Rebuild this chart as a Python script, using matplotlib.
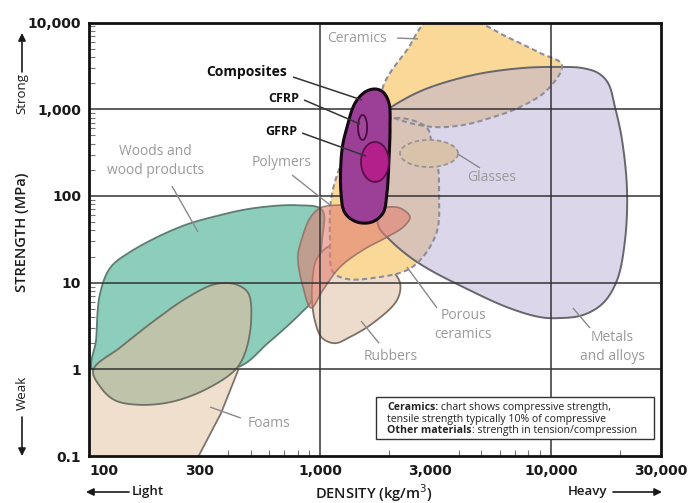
import numpy as np
import matplotlib
matplotlib.use("Agg")
import matplotlib.pyplot as plt
from matplotlib.patches import Polygon, Rectangle, FancyArrowPatch
from matplotlib.ticker import FixedLocator, NullFormatter, LogLocator

plt.rcParams['font.family'] = ['Open Sans', 'DejaVu Sans']

# ---------------- material envelopes (density kg/m3, strength MPa) ----------------
woods_density = [104, 107, 111, 123, 150, 247, 369, 513, 795, 1020, 1020, 923, 819, 594, 442, 224]
woods_strength = [0.96, 2.2, 7.2, 14.7, 22.5, 43.8, 60, 72, 78, 69, 31, 6.3, 4.35, 2.0, 1.06, 0.93]

foam_cell_density = [104, 137, 193, 268, 351, 428, 488, 503, 473, 428, 317, 226, 163, 129, 112]
foam_cell_strength = [0.98, 1.81, 3.7, 6.8, 9.6, 9.6, 7.6, 3.7, 1.54, 0.98, 0.58, 0.42, 0.39, 0.44, 0.62]

foam_base_density = [90, 450, 442, 372, 296, 274, 90]
foam_base_strength = [0.9, 1.9, 0.98, 0.31, 0.097, 0.053, 0.053]

rubber_density = [925, 962, 1082, 1310, 1647, 2011, 2222, 2158, 1698, 1349, 1161, 1021, 953, 923]
rubber_strength = [9.4, 18.2, 25.8, 29.4, 22.5, 14.7, 9.9, 6.3, 3.42, 2.36, 2.0, 2.3, 3.52, 6.3]

polymer_density = [1000, 1221, 1820, 2222, 2455, 2296, 1955, 1538, 1221, 1030, 914, 844, 802, 844, 905]
polymer_strength = [72.4, 78.5, 74.5, 72.4, 57.1, 43.8, 33.6, 23.8, 15.1, 8.2, 5.1, 8.9, 19.7, 35.4, 55.6]

ceramic_density = [2938, 4602, 6470, 8990, 11190, 9640, 7360, 5460, 4170, 3090, 2222, 1820, 1875, 2011, 2382]
ceramic_strength = [10400, 10400, 6810, 4450, 3236, 1663, 1059, 791, 657, 624, 750, 979, 1803, 2617, 4818]

porous_density = [2912, 3056, 3245, 3279, 3245, 2997, 2636, 2338, 1820, 1310, 1138, 1105, 1116, 1186, 1349, 1647, 2222]
porous_strength = [607, 386, 215, 102, 43.8, 25.8, 16.8, 13.6, 11.6, 11.0, 13.3, 31, 89.7, 174, 386, 657, 791]

metal_density = [1915, 2071, 2797, 4602, 7580, 10970, 13660, 16030, 17720, 18990, 20370, 21410,
                 20990, 19390, 16860, 13810, 10970, 8990, 6470, 4170, 2997, 2455, 2011, 1786, 1875]
metal_strength = [929, 1089, 1663, 2477, 2987, 3070, 2987, 2617, 2004, 1059, 442, 117,
                  31, 10.7, 5.8, 4.23, 3.9, 4.0, 5.2, 8.9, 14, 19.7, 31, 46.1, 199]

composite_density = [1731, 1875, 1990, 2011, 1990, 1950, 1875, 1679, 1446, 1283, 1233, 1245, 1310, 1419, 1567]
composite_strength = [1710, 1578, 1178, 624, 259, 108, 63.5, 50, 50, 63.5, 108, 338, 624, 1178, 1578]

glass_density = (2222, 3963)
glass_strength = (215, 442)
cfrp_density = (1462, 1600)
cfrp_strength = (442, 857)
gfrp_density = (1506, 1990)
gfrp_strength = (145, 419)

x_ticks = [100, 300, 1000, 3000, 10000, 30000]
x_tick_labels = ['100', '300', '1,000', '3,000', '10,000', '30,000']
y_ticks = [0.1, 1, 10, 100, 1000, 10000]
y_tick_labels = ['0.1', '1', '10', '100', '1,000', '10,000']

# ---------------- figure ----------------
W, H = 689, 503
fig = plt.figure(figsize=(W / 100, H / 100), dpi=100)
ax = fig.add_axes([89.3 / W, (H - 456) / H, (660.8 - 89.3) / W, (456 - 22.5) / H])
ax.set_xscale('log')
ax.set_yscale('log')
ax.set_xlim(100, 30000)
ax.set_ylim(0.1, 10000)


def closed_curve(dens, stren, n=24):
    """Centripetal Catmull-Rom loop through the envelope points (in screen space)."""
    P = ax.transData.transform(np.column_stack([dens, stren]))
    N = len(P)
    out = []
    for i in range(N):
        p0, p1, p2, p3 = P[i - 1], P[i], P[(i + 1) % N], P[(i + 2) % N]
        t0 = 0.0
        t1 = t0 + max(np.linalg.norm(p1 - p0), 1e-6) ** 0.5
        t2 = t1 + max(np.linalg.norm(p2 - p1), 1e-6) ** 0.5
        t3 = t2 + max(np.linalg.norm(p3 - p2), 1e-6) ** 0.5
        for t in np.linspace(t1, t2, n, endpoint=False):
            A1 = (t1 - t) / (t1 - t0) * p0 + (t - t0) / (t1 - t0) * p1
            A2 = (t2 - t) / (t2 - t1) * p1 + (t - t1) / (t2 - t1) * p2
            A3 = (t3 - t) / (t3 - t2) * p2 + (t - t2) / (t3 - t2) * p3
            B1 = (t2 - t) / (t2 - t0) * A1 + (t - t0) / (t2 - t0) * A2
            B2 = (t3 - t) / (t3 - t1) * A2 + (t - t1) / (t3 - t1) * A3
            out.append((t2 - t) / (t2 - t1) * B1 + (t - t1) / (t2 - t1) * B2)
    return ax.transData.inverted().transform(np.array(out))


def ellipse(drange, srange, n=120):
    (x0, y0), (x1, y1) = ax.transData.transform([[drange[0], srange[0]], [drange[1], srange[1]]])
    cx, cy, rx, ry = (x0 + x1) / 2, (y0 + y1) / 2, abs(x1 - x0) / 2, abs(y1 - y0) / 2
    t = np.linspace(0, 2 * np.pi, n)
    pts = np.column_stack([cx + rx * np.cos(t), cy + ry * np.sin(t)])
    return ax.transData.inverted().transform(pts)


def add(pts, z, **kw):
    ax.add_patch(Polygon(pts, closed=True, zorder=z, **kw))


# woods
add(closed_curve(woods_density, woods_strength), 2.0, facecolor='#8dcdbc', edgecolor='#5d7d74', lw=1.3)
# foams
add(np.column_stack([foam_base_density, foam_base_strength]), 2.1, facecolor='#f0dfcd', edgecolor='none')
ax.plot(foam_base_density[2:6], foam_base_strength[2:6], color='#7c746c', lw=1.3, zorder=2.11)
add(closed_curve(foam_cell_density, foam_cell_strength), 2.2, facecolor='#bec3aa', edgecolor='#6e7366', lw=1.3)
# rubbers
add(closed_curve(rubber_density, rubber_strength), 2.3, facecolor='#eddccb', edgecolor='#7d7068', lw=1.3)
# ceramics (fills)
cer = closed_curve(ceramic_density, ceramic_strength)
por = closed_curve(porous_density, porous_strength)
add(cer, 2.4, facecolor='#fad898', edgecolor='none')
add(por, 2.4, facecolor='#fad898', edgecolor='none')
# metals
add(closed_curve(metal_density, metal_strength), 2.5, facecolor='#b9afd7', alpha=0.5, edgecolor='none')
add(closed_curve(metal_density, metal_strength), 2.6, fill=False, edgecolor='#66666c', lw=1.4)
# ceramics (dashed outlines)
add(cer, 2.7, fill=False, edgecolor='#8e8e9a', lw=1.5, linestyle=(0, (2.5, 1.6)))
add(por, 2.7, fill=False, edgecolor='#8e8e9a', lw=1.5, linestyle=(0, (2.5, 1.6)))
# glasses
add(ellipse(glass_density, glass_strength), 2.8, facecolor='#d9c2aa', edgecolor='#9a9496',
    lw=1.3, linestyle=(0, (2.5, 1.6)))
# polymers
add(closed_curve(polymer_density, polymer_strength), 2.9, facecolor='#e17f71', alpha=0.6, edgecolor='none')
add(closed_curve(polymer_density, polymer_strength), 2.91, fill=False, edgecolor='#8d6a62', lw=1.2, alpha=0.8)

# grid
for xv in (1000, 10000):
    ax.axvline(xv, color='#333333', lw=1.1, zorder=2.95)
for yv in (1, 10, 100, 1000):
    ax.axhline(yv, color='#333333', lw=1.1, zorder=2.95)

# composites
add(closed_curve(composite_density, composite_strength), 3.0, facecolor='#9c3f97', edgecolor='#150712', lw=2.2)
add(ellipse(gfrp_density, gfrp_strength), 3.1, facecolor='#b3208c', edgecolor='#5a0f4a', lw=1.3)
add(ellipse(cfrp_density, cfrp_strength), 3.1, facecolor='#a1479b', edgecolor='#4a0a40', lw=1.3)

# ---------------- axes styling ----------------
for s in ax.spines.values():
    s.set_linewidth(2.0)
    s.set_color('#111111')
    s.set_zorder(5)
ax.xaxis.set_major_locator(FixedLocator(x_ticks))
ax.set_xticklabels(x_tick_labels)
ax.yaxis.set_major_locator(FixedLocator(y_ticks))
ax.set_yticklabels(y_tick_labels)
ax.xaxis.set_minor_locator(LogLocator(base=10, subs=np.arange(2, 10)))
ax.yaxis.set_minor_locator(LogLocator(base=10, subs=np.arange(2, 10)))
ax.xaxis.set_minor_formatter(NullFormatter())
ax.yaxis.set_minor_formatter(NullFormatter())
ax.tick_params(which='major', length=0, pad=6, labelsize=10, labelcolor='#1a1a1a')
ax.tick_params(which='minor', direction='in', length=4, width=0.8, color='#777777')
for lab in ax.get_xticklabels() + ax.get_yticklabels():
    lab.set_fontfamily('DejaVu Sans')
    lab.set_fontweight('bold')
ax.get_xticklabels()[0].set_horizontalalignment('left')

# ---------------- region labels ----------------
gray = '#9a9a9a'
lead = '#8a8a8a'
lab_kw = dict(color=gray, fontsize=10, ha='center', va='center', zorder=6, linespacing=1.35)


def leader(d0, s0, d1, s1, c=lead, lw=1.0):
    ax.plot([d0, d1], [s0, s1], color=c, lw=lw, zorder=6, solid_capstyle='butt')


ax.text(1446, 6620, 'Ceramics', **lab_kw)
leader(2158, 6620, 2661, 6460)
ax.text(193, 250, 'Woods and\nwood products', **lab_kw)
leader(228, 130, 296, 38.4)
ax.text(684, 240, 'Polymers', **lab_kw)
leader(757, 174, 1105, 78.5)
ax.text(5570, 165, 'Glasses', **lab_kw)
leader(3963, 304, 4936, 210)
ax.text(4170, 3.24, 'Porous\nceramics', **lab_kw)
leader(2382, 15.1, 3214, 5.1)
ax.text(2032, 1.42, 'Rubbers', **lab_kw)
leader(1506, 3.6, 1803, 2.0)
ax.text(18460, 1.81, 'Metals\nand alloys', **lab_kw)
leader(12480, 5.1, 14800, 2.99)
ax.text(601, 0.234, 'Foams', **lab_kw)
leader(334, 0.367, 454, 0.274)

bold_kw = dict(color='#111111', fontsize=10, fontweight='bold', ha='center', va='center', zorder=6)
ax.text(483, 2685, 'Composites', **bold_kw)
leader(764, 2351, 1520, 1277, c='#333333', lw=1.1)
ax.text(698, 1345, 'CFRP', **{**bold_kw, 'fontsize': 9})
leader(853, 1277, 1490, 675, c='#333333', lw=1.1)
ax.text(678, 546, 'GFRP', **{**bold_kw, 'fontsize': 9})
leader(836, 531, 1582, 288, c='#333333', lw=1.1)

# ---------------- note box ----------------
ax.add_patch(Rectangle((0.502, 0.039), 0.486, 0.097, transform=ax.transAxes, facecolor='white',
                       edgecolor='#333333', lw=1.0, zorder=7))
nfs = 7.6
nkw = dict(fontsize=nfs, color='#222222', zorder=8, transform=ax.transAxes, va='baseline')
t1 = ax.text(0.521, 0.106, 'Ceramics:', fontweight='bold', **nkw)
ax.annotate(' chart shows compressive strength,', xy=(1, 0), xycoords=t1, va='bottom',
            fontsize=nfs, color='#222222', zorder=8)
ax.text(0.521, 0.079, 'tensile strength typically 10% of compressive', **nkw)
t3 = ax.text(0.521, 0.052, 'Other materials', fontweight='bold', **nkw)
ax.annotate(': strength in tension/compression', xy=(1, 0), xycoords=t3, va='bottom',
            fontsize=nfs, color='#222222', zorder=8)

# ---------------- axis titles with direction arrows ----------------
def fx(x):
    return x / W


def fy(y):
    return 1 - y / H


ax_kw = dict(color='#1a1a1a', fontsize=10.5, fontweight='semibold')
fig.text(fx(22), fy(232), 'STRENGTH (MPa)', rotation=90, ha='center', va='center', **ax_kw)
fig.text(fx(22), fy(93), 'Strong', rotation=90, ha='center', va='center', color='#1a1a1a', fontsize=9.5)
fig.text(fx(22), fy(393), 'Weak', rotation=90, ha='center', va='center', color='#1a1a1a', fontsize=9.5)
fig.text(fx(374), fy(493), 'DENSITY (kg/m$^3$)', ha='center', va='center', **ax_kw)
fig.text(fx(132), fy(492), 'Light', ha='left', va='center', color='#1a1a1a', fontsize=9.5, fontweight='semibold')
fig.text(fx(607), fy(492), 'Heavy', ha='right', va='center', color='#1a1a1a', fontsize=9.5, fontweight='semibold')

arrow = dict(arrowstyle='-|>', color='#1a1a1a', lw=1.2, mutation_scale=11, shrinkA=0, shrinkB=0)
for tail, tip in [((22, 72), (22, 33)), ((22, 417), (22, 456)), ((129, 492), (86, 492)), ((613, 492), (662, 492))]:
    fig.add_artist(FancyArrowPatch((fx(tail[0]), fy(tail[1])), (fx(tip[0]), fy(tip[1])),
                                   transform=fig.transFigure, **arrow))

fig.savefig('out.png', dpi=100, facecolor='white')
